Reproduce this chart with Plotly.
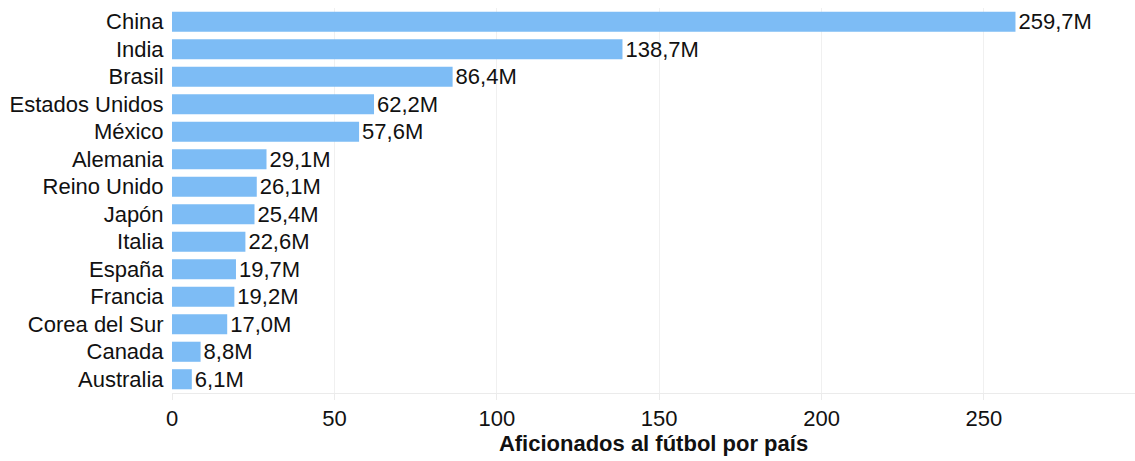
import plotly.graph_objects as go

countries = ["China", "India", "Brasil", "Estados Unidos", "México", "Alemania",
             "Reino Unido", "Japón", "Italia", "España", "Francia",
             "Corea del Sur", "Canada", "Australia"]
fans_millions = [259.7, 138.7, 86.4, 62.2, 57.6, 29.1, 26.1, 25.4, 22.6, 19.7,
                 19.2, 17.0, 8.8, 6.1]
x_ticks = [0, 50, 100, 150, 200, 250]
x_title = "Aficionados al fútbol por país"

FONT = "Liberation Sans, Arial, Helvetica, sans-serif"
FS = 22

fig = go.Figure(go.Bar(
    x=fans_millions,
    y=countries,
    orientation="h",
    marker=dict(color="#7dbcf5", line=dict(width=0)),
    texttemplate="%{x:.1f}M",
    textposition="outside",
    constraintext="none",
    cliponaxis=False,
    textfont=dict(family=FONT, size=FS, color="#111111"),
    hoverinfo="skip",
))

fig.update_layout(
    width=1135, height=461,
    margin=dict(l=172, r=0, t=8, b=68),
    paper_bgcolor="white",
    plot_bgcolor="white",
    bargap=0.27,
    separators=",.",
    showlegend=False,
    font=dict(family=FONT, size=FS, color="#111111"),
)

fig.update_yaxes(
    autorange="reversed",
    showgrid=False,
    zeroline=False,
    showline=False,
    ticks="outside",
    ticklen=3,
    tickcolor="rgba(0,0,0,0)",
    tickfont=dict(family=FONT, size=FS, color="#111111"),
)

fig.update_xaxes(
    range=[0, 296.5],
    tickvals=x_ticks,
    ticktext=[str(v) for v in x_ticks],
    showgrid=True,
    gridcolor="#f0f0f0",
    gridwidth=1,
    zeroline=False,
    showline=True,
    linecolor="#ebebeb",
    linewidth=1,
    ticks="outside",
    ticklen=6,
    tickcolor="#ebebeb",
    tickfont=dict(family=FONT, size=FS, color="#111111"),
    title=dict(text="<b>" + x_title + "</b>",
               font=dict(family=FONT, size=FS, color="#111111"),
               standoff=5),
)

fig.write_html("out.html")
